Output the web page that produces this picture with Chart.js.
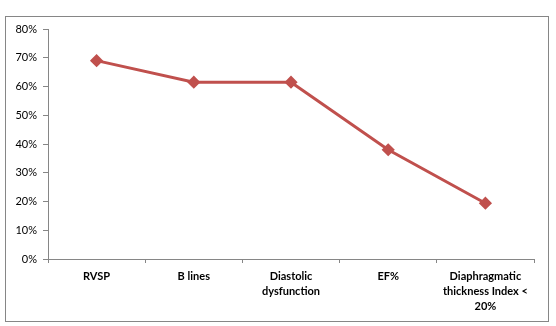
<!DOCTYPE html>
<html>
<head>
<meta charset="utf-8">
<script src="https://cdn.jsdelivr.net/npm/chart.js@4/dist/chart.umd.min.js"></script>
<style>
  html, body { margin: 0; padding: 0; background: #fff; }
  #wrap { width: 556px; height: 326px; position: relative; }
</style>
</head>
<body>
<div id="wrap"><canvas id="c" width="556" height="326"></canvas></div>
<script>
// Findings in the study group, as percentages
const categories = [
  'RVSP',
  'B lines',
  ['Diastolic', 'dysfunction'],
  'EF%',
  ['Diaphragmatic', 'thickness Index <', '20%']
];
const percentValues = [69, 61.5, 61.5, 38, 19.4];
const yTicks = [0, 10, 20, 30, 40, 50, 60, 70, 80];

const lineColor = '#C0504D';
const axisColor = '#868686';

// Thin frame around the whole chart
const framePlugin = {
  id: 'frame',
  beforeDraw(chart) {
    const ctx = chart.ctx;
    ctx.save();
    ctx.fillStyle = '#fff';
    ctx.fillRect(0, 0, chart.width, chart.height);
    ctx.strokeStyle = axisColor;
    ctx.lineWidth = 1;
    ctx.strokeRect(5.5, 16.5, 543, 305);
    ctx.restore();
  }
};

new Chart(document.getElementById('c'), {
  type: 'line',
  data: {
    labels: categories,
    datasets: [{
      data: percentValues,
      borderColor: lineColor,
      backgroundColor: lineColor,
      borderWidth: 3,
      pointStyle: 'rectRot',
      pointRadius: 4.5,
      pointHoverRadius: 4.5,
      tension: 0,
      fill: false
    }]
  },
  options: {
    responsive: false,
    animation: false,
    layout: { padding: { top: 29, right: 22, bottom: 0, left: 0 } },
    plugins: { legend: { display: false }, tooltip: { enabled: false } },
    scales: {
      x: {
        offset: true,
        grid: {
          display: true,
          offset: true,
          drawOnChartArea: false,
          drawTicks: true,
          tickLength: 4,
          color: axisColor
        },
        border: { display: true, color: axisColor, width: 1 },
        ticks: {
          color: '#000',
          font: { family: 'Lato', size: 11, weight: 'bold', lineHeight: 1.36 },
          padding: 6,
          maxRotation: 0,
          autoSkip: false
        },
        afterFit(scale) { scale.height = 67; }
      },
      y: {
        min: 0,
        max: 80,
        afterBuildTicks(scale) { scale.ticks = yTicks.map(v => ({ value: v })); },
        grid: {
          display: true,
          drawOnChartArea: false,
          drawTicks: true,
          tickLength: 5,
          color: axisColor
        },
        border: { display: true, color: axisColor, width: 1 },
        ticks: {
          color: '#000',
          font: { family: 'Lato', size: 11 },
          padding: 6,
          callback: v => v + '%'
        },
        afterFit(scale) { scale.width = 48; }
      }
    }
  },
  plugins: [framePlugin]
});
</script>
</body>
</html>
